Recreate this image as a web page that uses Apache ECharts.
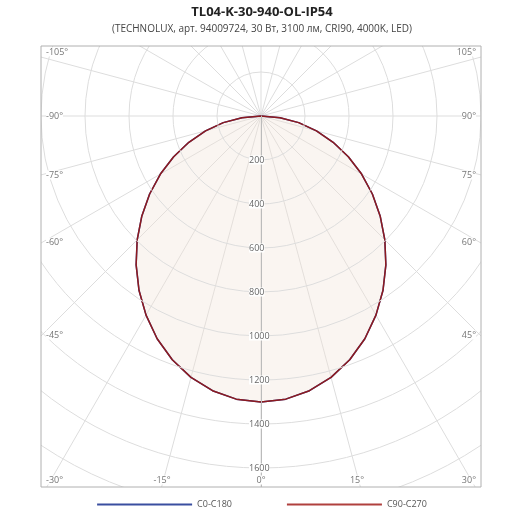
<!DOCTYPE html>
<html><head><meta charset="utf-8">
<script src="https://cdn.jsdelivr.net/npm/echarts@6/dist/echarts.min.js"></script>
<style>html,body{margin:0;background:#fff}#c{width:524px;height:524px}</style>
</head><body><div id="c"></div>
<script>
var angles = [-90, -85, -80, -75, -70, -65, -60, -55, -50, -45, -40, -35, -30, -25, -20, -15, -10, -5,
  0, 5, 10, 15, 20, 25, 30, 35, 40, 45, 50, 55, 60, 65, 70, 75, 80, 85, 90];
var c0c180 = [0, 87, 174, 261, 349, 438, 528, 618, 707, 796, 883, 967, 1045, 1117, 1179, 1230, 1268, 1292,
  1300, 1292, 1268, 1230, 1179, 1117, 1045, 967, 883, 796, 707, 618, 528, 438, 349, 261, 174, 87, 0];
var c90c270 = [0, 87, 174, 261, 349, 438, 528, 618, 707, 796, 883, 967, 1045, 1117, 1179, 1230, 1268, 1292,
  1300, 1292, 1268, 1230, 1179, 1117, 1045, 967, 883, 796, 707, 618, 528, 438, 349, 261, 174, 87, 0];
var angleLabels = [
  ['-105°', 46, 52, 'left'], ['105°', 476, 52, 'right'],
  ['-90°', 46, 116, 'left'], ['90°', 476, 116, 'right'],
  ['-75°', 46, 175, 'left'], ['75°', 476, 175, 'right'],
  ['-60°', 46, 242, 'left'], ['60°', 476, 242, 'right'],
  ['-45°', 46, 335, 'left'], ['45°', 476, 335, 'right'],
  ['-30°', 46, 480, 'left'], ['-15°', 162, 480, 'center'], ['0°', 261, 480, 'center'],
  ['15°', 357, 480, 'center'], ['30°', 476, 480, 'right']
];

// angle axis runs 0..360 counterclockwise from the bottom, so negative angles wrap
function pairs(vals) {
  return angles.map(function (a, i) { return [vals[i], a < 0 ? a + 360 : a]; });
}

var chart = echarts.init(document.getElementById('c'));
var graphics = [
  { type: 'rect', shape: { x: 0, y: 0, width: 524, height: 46 }, style: { fill: '#fff' }, z: 100 },
  { type: 'rect', shape: { x: 0, y: 487, width: 524, height: 37 }, style: { fill: '#fff' }, z: 100 },
  { type: 'rect', shape: { x: 0, y: 0, width: 41, height: 524 }, style: { fill: '#fff' }, z: 100 },
  { type: 'rect', shape: { x: 481, y: 0, width: 43, height: 524 }, style: { fill: '#fff' }, z: 100 },
  { type: 'rect', shape: { x: 41, y: 46, width: 440, height: 441 }, style: { fill: 'none', stroke: '#b0b0b0', lineWidth: 1 }, z: 101 }
];
angleLabels.forEach(function (l) {
  graphics.push({ type: 'text', x: l[1], y: l[2], z: 102,
    style: { text: l[0], fill: '#777', font: '9px "Open Sans"', align: l[3], verticalAlign: 'middle',
      backgroundColor: '#fff' } });
});

chart.setOption({
  animation: false,
  title: {
    text: 'TL04-K-30-940-OL-IP54',
    subtext: '(TECHNOLUX, арт. 94009724, 30 Вт, 3100 лм, CRI90, 4000K, LED)',
    left: 'center', top: 1, itemGap: 5, z: 110,
    textStyle: { fontSize: 13, fontWeight: 'bold', color: '#222', fontFamily: 'Open Sans' },
    subtextStyle: { fontSize: 10, color: '#444', fontFamily: 'Open Sans' }
  },
  legend: {
    bottom: 10, left: 'center', z: 110, itemWidth: 95, itemHeight: 2, itemGap: 55,
    icon: 'rect',
    textStyle: { fontSize: 9, color: '#555', fontFamily: 'Open Sans' },
    data: ['C0-C180', 'C90-C270']
  },
  polar: { center: [261, 116], radius: 528 },
  angleAxis: {
    type: 'value', min: 0, max: 360, interval: 15, startAngle: 270, clockwise: false,
    axisLine: { show: false }, axisTick: { show: false }, axisLabel: { show: false },
    splitLine: { lineStyle: { color: '#ddd', width: 1 } }
  },
  radiusAxis: {
    min: 0, max: 2400, interval: 200,
    axisLine: { lineStyle: { color: '#bbb' } }, axisTick: { show: false },
    axisLabel: { color: '#666', fontSize: 9, fontFamily: 'Open Sans', margin: -12, backgroundColor: '#fff',
      formatter: function (v) { return (v > 0 && v <= 1600) ? String(v) : ''; } },
    splitLine: { show: true, lineStyle: { color: '#ddd' } },
    z: 50
  },
  series: [
    { name: 'C0-C180', type: 'line', coordinateSystem: 'polar', data: pairs(c0c180),
      symbol: 'none', lineStyle: { color: '#3a4fa0', width: 1.5 }, itemStyle: { color: '#3a4fa0' } },
    { name: 'C90-C270', type: 'line', coordinateSystem: 'polar', data: pairs(c90c270),
      symbol: 'none', lineStyle: { color: '#8e1a1e', width: 1.5 }, itemStyle: { color: '#b0403e' },
      areaStyle: { color: 'rgba(240,228,214,0.5)' } }
  ],
  graphic: graphics
});
</script></body></html>
